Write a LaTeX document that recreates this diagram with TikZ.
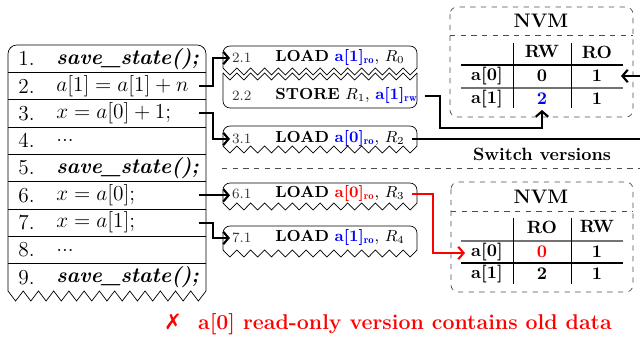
\documentclass[tikz,border=0pt]{standalone}
\usepackage{fontspec}
\newfontfamily\symfont{DejaVu Sans}
\usetikzlibrary{arrows.meta}
\newcommand\mydots{...}
\newcommand\savest{\textbf{\textit{save\_state();}}}
\newcommand\zigtopbox[4]{% left, top, right, zig level (rounded top, zigzag bottom)
  \draw[rounded corners=4pt] (#1,#4) -- (#1,#2) -- (#3,#2) -- (#3,#4);
  \draw (#1,#4) \foreach \i in {1,...,14} { -- ++(6.93,7) -- ++(6.93,-7) };
}
\begin{document}
\begin{tikzpicture}[x=0.5625pt,y=-0.5625pt,
  conn/.style={line width=1.2pt,-{Straight Barb[length=3pt,width=7pt]}},
  redconn/.style={conn,red},
  lnum/.style={anchor=west,inner sep=0pt,font=\large},
  ltxt/.style={anchor=west,inner sep=0pt,font=\large},
  mnum/.style={anchor=west,inner sep=1pt,font=\footnotesize,text=black!80},
  mtxt/.style={anchor=west,inner sep=0pt,font=\small},
  nvmbox/.style={dashed,draw=black!70,rounded corners=4pt},
  nvmline/.style={dashed,draw=black!70},
  cell/.style={font=\bfseries,inner sep=1pt},
  colsep/.style={line width=0.5pt},
  hrule/.style={line width=0.8pt},
  grule/.style={line width=0.8pt,draw=black!55}]
\clip (0,0) rectangle (640,337);
\coordinate (vx) at (213,0);
% ---------- left code column ----------
\draw[rounded corners=5pt] (8,291) -- (8,45) -- (206,45) -- (206,291);
\draw (8,291) \foreach \i in {1,...,13} { -- ++(7.615,10) -- ++(7.615,-10) };
\foreach \k in {1,2,3,4,5,6,7,8} { \draw (8,45+\k*27.333) -- (206,45+\k*27.333); }
\foreach \k/\t in {1/\savest,
                   2/$a[1] = a[1] + n$,
                   3/$x = a[0] + 1;$,
                   4/\mydots,
                   5/\savest,
                   6/$x = a[0];$,
                   7/$x = a[1];$,
                   8/\mydots,
                   9/\savest} {
  \node[lnum] (n\k) at (18,45+\k*27.333-13.667) {\k.};
  \node[ltxt] (c\k) at (56,45+\k*27.333-13.667) {\t};
  \coordinate (s\k) at (199,45+\k*27.333-13.667);
}
% ---------- middle instruction boxes ----------
\zigtopbox{223}{46}{417}{68}
\draw[rounded corners=4pt] (223,73) -- (223,108) -- (417,108) -- (417,73);
\draw (223,73) \foreach \i in {1,...,14} { -- ++(6.93,7) -- ++(6.93,-7) };
\zigtopbox{223}{126}{417}{146}
\zigtopbox{223}{183}{417}{203}
\zigtopbox{223}{226}{417}{250}

\node[mnum] (m21) at (230,58) {2.1};
\node[mtxt] (t21) at (275,58) {\textbf{LOAD} \textcolor{blue}{\textbf{a[1]}$_{\mathbf{ro}}$}, $R_0$};
\node[mnum] (m22) at (230,96) {2.2};
\node[mtxt] (t22) at (275,96) {\textbf{STORE} $R_1$, \textcolor{blue}{\textbf{a[1]}$_{\mathbf{rw}}$}};
\node[mnum] (m31) at (230,139) {3.1};
\node[mtxt] (t31) at (275,139) {\textbf{LOAD} \textcolor{blue}{\textbf{a[0]}$_{\mathbf{ro}}$}, $R_2$};
\node[mnum] (m61) at (230,194) {6.1};
\node[mtxt] (t61) at (275,194) {\textbf{LOAD} \textcolor{red}{\textbf{a[0]}$_{\mathbf{ro}}$}, $R_3$};
\node[mnum] (m71) at (230,238) {7.1};
\node[mtxt] (t71) at (275,238) {\textbf{LOAD} \textcolor{blue}{\textbf{a[1]}$_{\mathbf{ro}}$}, $R_4$};
\coordinate (o22) at (425,96);
\coordinate (o31) at (412,139);
\coordinate (o61) at (412,194);

% ---------- top NVM ----------
\draw[nvmbox] (450,7) rectangle (633,117);
\draw[nvmline] (450,35) -- (633,35);
\node[font=\fontsize{11}{13}\selectfont\bfseries] (nvmA) at (541,21) {NVM};
\node[cell] (hA1) at (542,52) {RW};
\node[cell] (hA2) at (597,52) {RO};
\node[cell] (rA0) at (487,76) {a[0]};
\node[cell] (vA01) at (542,76) {0};
\node[cell] (vA02) at (597,76) {1};
\node[cell] (rA1) at (487,99) {a[1]};
\node[cell,text=blue] (vA11) at (542,99) {2};
\node[cell] (vA12) at (597,99) {1};
\draw[hrule] (461,65) -- (623,65);
\draw[grule] (461,88) -- (623,88);
\draw[colsep] (513,43) -- (513,108);
\draw[colsep] (571,43) -- (571,108);
\coordinate (inA1) at (542,110);
\coordinate (inA0) at (621,76);

% ---------- switch versions ----------
\node[font=\bfseries] (sw) at (542,154) {Switch versions};
\draw[nvmline] (222,168) -- (640,168);

% ---------- bottom NVM ----------
\draw[nvmbox] (451,182) rectangle (633,292);
\draw[nvmline] (451,211) -- (633,211);
\node[font=\fontsize{11}{13}\selectfont\bfseries] (nvmB) at (541,197) {NVM};
\node[cell] (hB1) at (542,227) {RO};
\node[cell] (hB2) at (597,227) {RW};
\node[cell] (rB0) at (487,252) {a[0]};
\node[cell,text=red] (vB01) at (542,252) {0};
\node[cell] (vB02) at (597,252) {1};
\node[cell] (rB1) at (487,274) {a[1]};
\node[cell] (vB11) at (542,274) {2};
\node[cell] (vB12) at (597,274) {1};
\draw[grule] (461,241) -- (623,241);
\draw[hrule] (461,263) -- (623,263);
\draw[colsep] (513,218) -- (513,284);
\draw[colsep] (571,218) -- (571,284);
\coordinate (inB0) at (465,253);

% ---------- connectors ----------
\draw[conn] (s2) -- (s2 -| vx) |- (m21.west);
\draw[conn] (s3) -- (s3 -| vx) |- (m31.west);
\draw[conn] (s6) -- (m61.west |- s6);
\draw[conn] (s7) -- (s7 -| vx) |- (m71.west);
\draw[conn] (o22) -- (440,96) -- (440,128) -| (inA1);
\draw[conn] (o31) -- (650,139) |- (inA0);
\draw[redconn] (o61) -- (433,194) |- (inB0);

% ---------- bottom message ----------
\node[font=\large\bfseries,text=red] (msg) at (388,324) {{\symfont\bfseries ✗}\ \ a[0] read-only version contains old data};
\end{tikzpicture}
\end{document}
